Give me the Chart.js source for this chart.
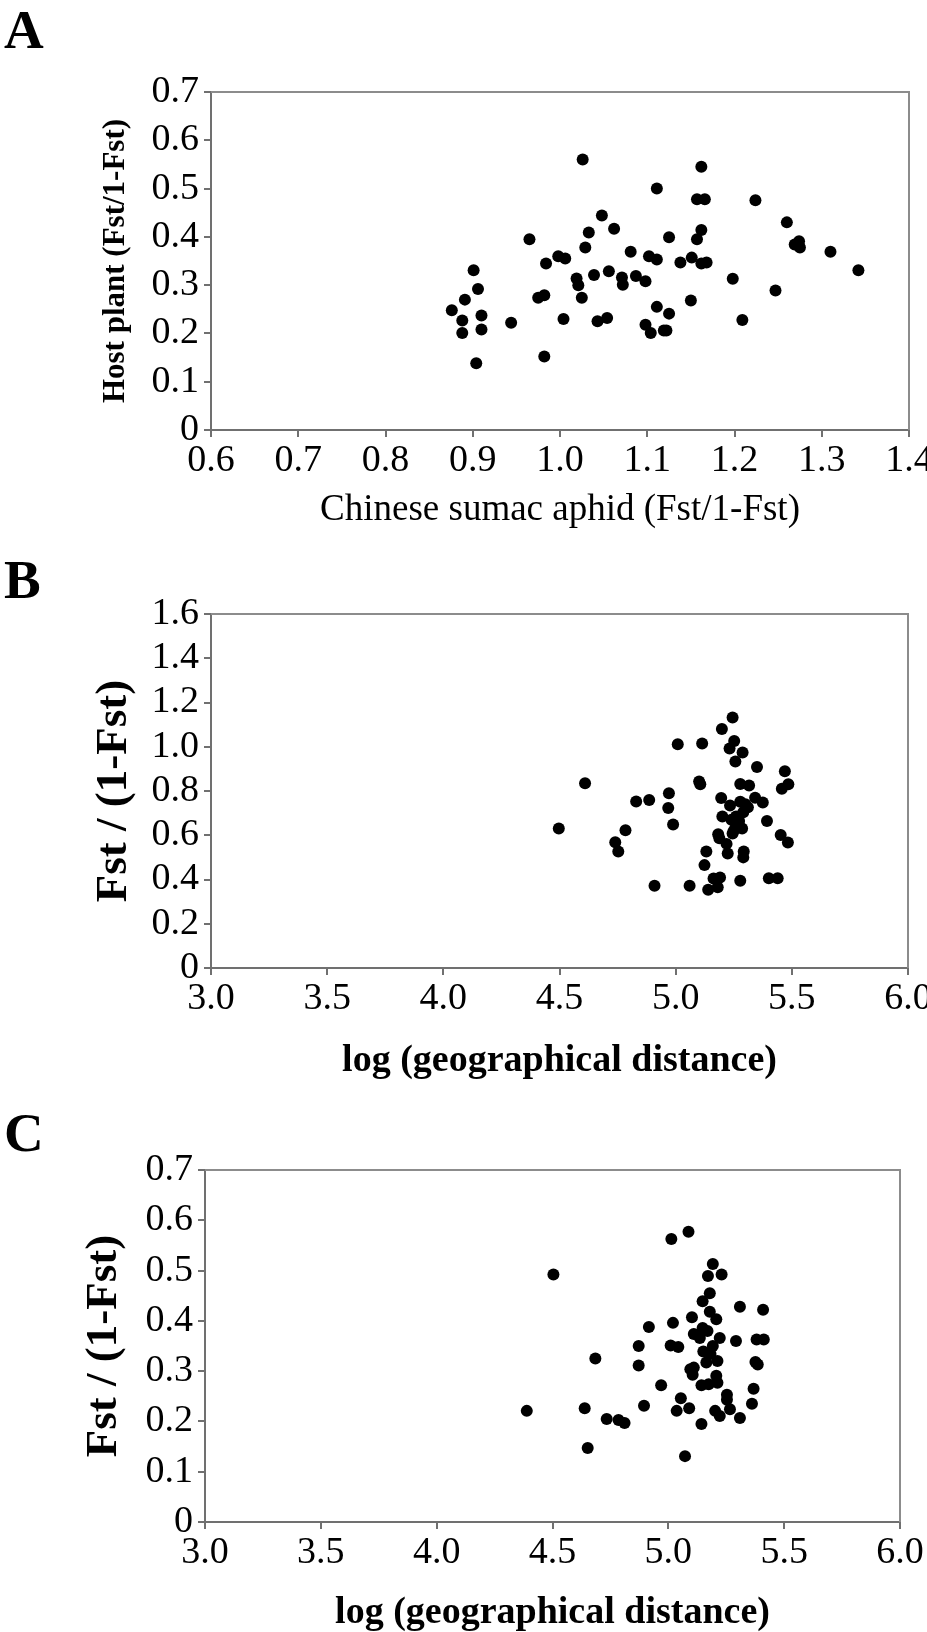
<!DOCTYPE html>
<html>
<head>
<meta charset="utf-8">
<script src="https://cdn.jsdelivr.net/npm/chart.js@4"></script>
<style>
  body { margin: 0; background: #fff; width: 927px; height: 1632px; position: relative; overflow: hidden; font-family: "Liberation Serif", serif; }
  .panel { position: absolute; left: 0; width: 927px; }
  .letter { position: absolute; left: 4px; font-size: 55px; font-weight: bold; line-height: 1; color: #000; }
</style>
</head>
<body>
<div class="letter" style="top:2px">A</div>
<div class="letter" style="top:552px">B</div>
<div class="letter" style="top:1105px">C</div>
<div class="panel" style="top:0px;height:540px"><canvas id="chartA" width="927" height="540"></canvas></div>
<div class="panel" style="top:540px;height:545px"><canvas id="chartB" width="927" height="545"></canvas></div>
<div class="panel" style="top:1085px;height:547px"><canvas id="chartC" width="927" height="547"></canvas></div>
<script>
// panel A: aphid vs host plant
const aX = [1.026,1.162,1.111,1.157,1.166,1.224,1.048,1.260,1.062,1.162,1.033,0.965,1.125,1.157,1.274,1.269,1.275,1.029,1.310,1.081,
  0.998,1.006,1.102,1.111,1.151,1.138,1.162,1.168,0.984,1.342,0.901,1.056,1.039,1.087,1.071,1.198,1.019,1.098,1.021,1.072,
  0.906,1.247,0.982,0.975,1.025,0.891,1.150,1.111,0.876,1.125,0.910,0.888,1.004,1.209,1.043,1.054,0.944,1.098,0.910,1.119,
  1.122,1.104,0.888,0.982,0.904];
const aY = [0.560,0.545,0.500,0.478,0.478,0.476,0.444,0.430,0.417,0.414,0.409,0.395,0.399,0.395,0.391,0.384,0.378,0.378,0.369,0.369,
  0.360,0.355,0.360,0.353,0.357,0.347,0.345,0.347,0.345,0.331,0.331,0.329,0.321,0.319,0.316,0.313,0.314,0.308,0.300,0.301,
  0.292,0.289,0.279,0.274,0.274,0.270,0.268,0.255,0.248,0.241,0.237,0.227,0.230,0.228,0.225,0.232,0.222,0.218,0.208,0.206,
  0.206,0.201,0.201,0.152,0.138];

// panel B: log distance vs Fst/(1-Fst)
const bX = [5.245,5.199,5.009,5.114,5.252,5.232,5.288,5.257,5.350,5.470,4.610,5.101,5.106,5.278,5.316,5.485,5.457,4.971,5.196,5.342,
  4.830,4.886,5.278,5.375,5.234,5.311,4.968,5.291,5.260,5.201,5.393,5.273,4.989,5.260,4.497,4.784,5.286,5.245,5.183,5.452,
  5.188,4.740,5.483,5.219,4.753,5.132,5.293,5.224,5.291,5.124,5.163,5.191,5.401,5.439,5.278,4.909,5.060,5.181,5.140,5.250,
  5.270,5.300,5.240];
const bY = [1.132,1.080,1.011,1.015,1.026,0.992,0.974,0.933,0.908,0.889,0.835,0.843,0.830,0.832,0.825,0.830,0.810,0.790,0.768,0.770,
  0.753,0.759,0.751,0.748,0.734,0.726,0.723,0.704,0.685,0.685,0.664,0.664,0.649,0.645,0.630,0.623,0.630,0.608,0.604,0.601,
  0.586,0.568,0.567,0.561,0.527,0.527,0.527,0.517,0.500,0.465,0.404,0.409,0.406,0.406,0.394,0.372,0.372,0.365,0.354,0.620,
  0.660,0.740,0.670];

// panel C
const cX = [5.087,5.013,5.192,4.504,5.171,5.230,5.179,5.148,5.309,5.409,5.179,5.102,5.207,5.020,4.916,5.148,5.169,5.110,5.136,5.222,
  5.292,5.381,5.412,4.872,5.010,5.043,5.192,5.151,5.182,4.685,5.164,5.212,5.376,5.386,4.872,5.095,5.110,5.105,5.207,4.969,
  5.143,5.174,5.212,5.368,5.253,5.054,5.253,4.895,5.361,4.639,5.090,5.266,4.389,5.036,5.202,5.222,5.309,4.734,4.785,4.811,
  5.143,4.652,5.072];
const cY = [0.577,0.563,0.513,0.492,0.489,0.492,0.455,0.439,0.428,0.422,0.418,0.407,0.403,0.396,0.388,0.386,0.380,0.374,0.366,0.366,
  0.360,0.363,0.363,0.350,0.351,0.348,0.350,0.339,0.334,0.325,0.317,0.320,0.318,0.313,0.311,0.304,0.307,0.293,0.291,0.272,
  0.272,0.274,0.277,0.265,0.253,0.246,0.243,0.231,0.235,0.226,0.226,0.224,0.221,0.221,0.221,0.211,0.207,0.205,0.203,0.197,
  0.195,0.147,0.131];

// tick values
const aXTicks = [0.6, 0.7, 0.8, 0.9, 1.0, 1.1, 1.2, 1.3, 1.4];
const aYTicks = [0, 0.1, 0.2, 0.3, 0.4, 0.5, 0.6, 0.7];
const distTicks = [3.0, 3.5, 4.0, 4.5, 5.0, 5.5, 6.0];
const bYTicks = [0, 0.2, 0.4, 0.6, 0.8, 1.0, 1.2, 1.4, 1.6];
const cYTicks = [0, 0.1, 0.2, 0.3, 0.4, 0.5, 0.6, 0.7];

const axisGrey = '#707070';
const frameGrey = '#8c8c8c';
const tickFont = { family: 'Liberation Serif', size: 38, lineHeight: 1 };

const framePlugin = {
  id: 'frame',
  beforeDatasetsDraw(chart) {
    const { ctx, chartArea: a } = chart;
    ctx.save();
    ctx.strokeStyle = frameGrey;
    ctx.lineWidth = 2;
    ctx.beginPath();
    ctx.moveTo(a.left, a.top);
    ctx.lineTo(a.right, a.top);
    ctx.lineTo(a.right, a.bottom);
    ctx.stroke();
    ctx.restore();
  }
};

function makeChart(id, xs, ys, xTicks, yTicks, box, xTitle, yTitle) {
  const canvas = document.getElementById(id);
  const H = canvas.height;
  return new Chart(canvas, {
    type: 'scatter',
    data: {
      datasets: [{
        data: xs.map((x, i) => ({ x: x, y: ys[i] })),
        backgroundColor: '#000',
        borderColor: '#000',
        pointRadius: 6,
        pointBorderWidth: 0
      }]
    },
    options: {
      responsive: false,
      animation: false,
      devicePixelRatio: 1,
      layout: { padding: { left: 0, right: 927 - box.right, top: box.top, bottom: 0 } },
      plugins: { legend: { display: false }, tooltip: { enabled: false } },
      scales: {
        x: {
          type: 'linear',
          min: xTicks[0],
          max: xTicks[xTicks.length - 1],
          afterBuildTicks: s => { s.ticks = xTicks.map(v => ({ value: v })); },
          afterFit: s => { s.height = H - box.bottom; s.paddingLeft = 0; s.paddingRight = 0; },
          ticks: { callback: v => v.toFixed(1), color: '#000', font: tickFont, padding: 5, maxRotation: 0, autoSkip: false },
          grid: { drawOnChartArea: false, tickLength: 7, color: axisGrey, lineWidth: 2 },
          border: { color: axisGrey, width: 2 },
          title: { display: true, text: xTitle.text, color: '#000', font: xTitle.font, padding: { top: xTitle.pad, bottom: xTitle.pad } }
        },
        y: {
          type: 'linear',
          min: yTicks[0],
          max: yTicks[yTicks.length - 1],
          afterBuildTicks: s => { s.ticks = yTicks.map(v => ({ value: v })); },
          afterFit: s => { s.width = box.left; s.paddingTop = 0; s.paddingBottom = 0; },
          ticks: { callback: v => v === 0 ? '0' : v.toFixed(1), color: '#000', font: tickFont, padding: 5, autoSkip: false },
          grid: { drawOnChartArea: false, tickLength: 7, color: axisGrey, lineWidth: 2 },
          border: { color: axisGrey, width: 2 },
          title: { display: true, text: yTitle.text, color: '#000', font: yTitle.font, padding: { top: yTitle.pad, bottom: yTitle.pad } }
        }
      }
    },
    plugins: [framePlugin]
  });
}

const distTitle = { family: 'Liberation Serif', size: 38, weight: 'bold', lineHeight: 1 };
const fstTitle = { family: 'Liberation Serif', size: 45, weight: 'bold', lineHeight: 1 };

makeChart('chartA', aX, aY, aXTicks, aYTicks,
  { left: 211, right: 909, top: 92, bottom: 430 },
  { text: 'Chinese sumac aphid (Fst/1-Fst)', font: { family: 'Liberation Serif', size: 37, lineHeight: 1 }, pad: 11 },
  { text: 'Host plant (Fst/1-Fst)', font: { family: 'Liberation Serif', size: 31, weight: 'bold', lineHeight: 1 }, pad: 100 });

makeChart('chartB', bX, bY, distTicks, bYTicks,
  { left: 211, right: 908, top: 74, bottom: 428 },
  { text: 'log (geographical distance)', font: distTitle, pad: 5 },
  { text: 'Fst / (1-Fst)', font: fstTitle, pad: 92 });

makeChart('chartC', cX, cY, distTicks, cYTicks,
  { left: 205, right: 900, top: 85, bottom: 437 },
  { text: 'log (geographical distance)', font: distTitle, pad: 0 },
  { text: 'Fst / (1-Fst)', font: fstTitle, pad: 82 });
</script>
</body>
</html>
